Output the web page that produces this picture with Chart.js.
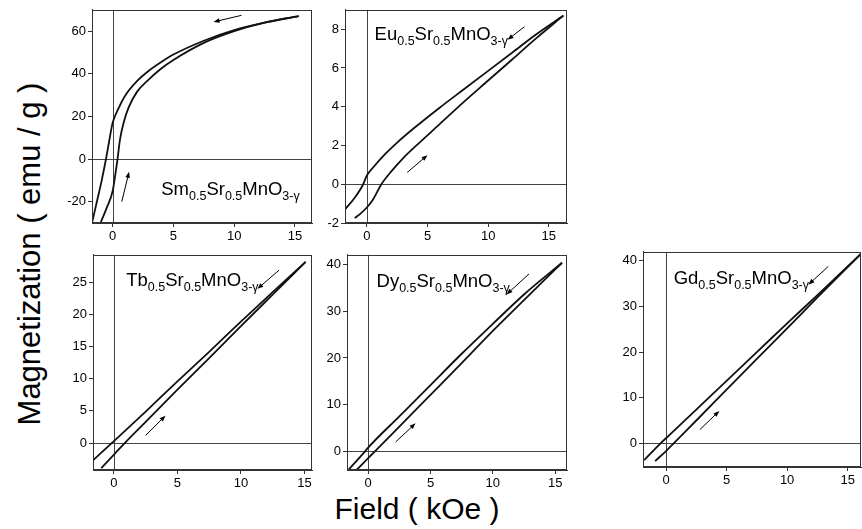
<!DOCTYPE html>
<html><head><meta charset="utf-8">
<script src="https://cdn.jsdelivr.net/npm/chart.js@4.4.1/dist/chart.umd.min.js"></script>
<style>
html,body{margin:0;padding:0;background:#fff;overflow:hidden;width:862px;height:529px;position:relative;}
canvas{position:absolute;}
.ttl{position:absolute;font-family:"Liberation Sans",Arial,sans-serif;color:#000;white-space:nowrap;transform-origin:center center;}
</style></head><body>
<div class="ttl" id="ytitle">Magnetization ( emu / g )</div>
<div class="ttl" id="xtitle">Field ( kOe )</div>
<canvas id="cSm"></canvas>
<canvas id="cEu"></canvas>
<canvas id="cTb"></canvas>
<canvas id="cDy"></canvas>
<canvas id="cGd"></canvas>
<script>
// ---------- DATA ----------
// Sm0.5Sr0.5MnO3-y : decreasing-field branch (upper) and increasing-field branch (lower)
const smDownX = [-1.7, -1.3, -0.9, -0.55, -0.3, 0, 0.5, 1, 2, 3, 4, 5, 7.5, 10, 12.5, 15.3];
const smDownY = [-30, -20, -10, 0, 8, 17, 24, 29.5, 36.5, 41.5, 45.5, 49, 55.5, 60.5, 64, 67];
const smUpX   = [-1.0, -0.5, 0, 0.2, 0.4, 0.6, 0.9, 1.3, 2, 3, 4, 5, 7.5, 10, 12.5, 15.3];
const smUpY   = [-30, -23, -15, -8, 0, 9, 17, 24, 31.5, 37.5, 42.5, 46.5, 54.5, 60, 64, 67];
// Eu0.5Sr0.5MnO3-y
const euDownX = [-1.8, -1.0, -0.3, 0, 0.5, 1.5, 2.5, 4, 6, 8, 10, 12, 14, 16.2];
const euDownY = [-1.3, -0.7, 0, 0.45, 0.85, 1.55, 2.15, 2.95, 3.95, 4.9, 5.85, 6.8, 7.75, 8.7];
const euUpX   = [-1.0, -0.5, 0, 0.5, 1.2, 2, 3, 4, 6, 8, 10, 12, 14, 16.2];
const euUpY   = [-1.75, -1.5, -1.2, -0.8, 0, 0.65, 1.35, 1.95, 3.1, 4.25, 5.35, 6.45, 7.55, 8.7];
// Tb0.5Sr0.5MnO3-y
const tbDownX = [-1.65, 0, 2.5, 5, 7.5, 10, 12.5, 15.1];
const tbDownY = [-2.7, 0.3, 4.9, 9.6, 14.2, 18.9, 23.5, 28.2];
const tbUpX   = [-1.0, 0, 0.85, 2.5, 5, 7.5, 10, 12.5, 15.1];
const tbUpY   = [-3.9, -1.8, 0, 3.3, 8.3, 13.2, 18.2, 23.1, 28.2];
// Dy0.5Sr0.5MnO3-y
const dyDownX = [-1.6, -0.25, 0, 2.5, 5, 7.5, 10, 12.5, 15.55];
const dyDownY = [-4, 0, 0.8, 7.5, 14.2, 20.9, 27.3, 33.6, 40.4];
const dyUpX   = [-0.94, 0, 0.54, 2.5, 5, 7.5, 10, 12.5, 15.55];
const dyUpY   = [-4, -1.45, 0, 5.3, 12.1, 18.9, 25.8, 32.4, 40.4];
// Gd0.5Sr0.5MnO3-y
const gdDownX = [-1.8, -0.45, 0, 2.5, 5, 7.5, 10, 12.5, 16.15];
const gdDownY = [-3.7, 0, 1.1, 7.4, 13.7, 20.0, 26.3, 32.5, 41.7];
const gdUpX   = [-0.9, 0, 0.63, 2.5, 5, 7.5, 10, 12.5, 16.15];
const gdUpY   = [-3.9, -1.7, 0, 5.0, 11.75, 18.5, 25.2, 32.0, 41.7];

// tick labels
const fieldTicks = [0, 5, 10, 15];
const smMagTicks = [-20, 0, 20, 40, 60];
const euMagTicks = [-2, 0, 2, 4, 6, 8];
const tbMagTicks = [0, 5, 10, 15, 20, 25];
const dyMagTicks = [0, 10, 20, 30, 40];
const gdMagTicks = [0, 10, 20, 30, 40];

// compound names (text, subscript?)
const smName = [["Sm",0],["0.5",1],["Sr",0],["0.5",1],["MnO",0],["3-\u03B3",1]];
const euName = [["Eu",0],["0.5",1],["Sr",0],["0.5",1],["MnO",0],["3-\u03B3",1]];
const tbName = [["Tb",0],["0.5",1],["Sr",0],["0.5",1],["MnO",0],["3-\u03B3",1]];
const dyName = [["Dy",0],["0.5",1],["Sr",0],["0.5",1],["MnO",0],["3-\u03B3",1]];
const gdName = [["Gd",0],["0.5",1],["Sr",0],["0.5",1],["MnO",0],["3-\u03B3",1]];

// sweep-direction arrows in data units [x1,y1,x2,y2], head at (x2,y2)
const smArrows = [[10.6, 67.4, 8.3, 64.3], [0.75, -20, 1.35, -6]];
const euArrows = [[13.0, 8.13, 11.6, 7.45], [3.33, 0.61, 5.0, 1.5]];
const tbArrows = [[13.0, 26.9, 11.3, 24.0], [2.5, 1.2, 4.06, 4.26]];
const dyArrows = [[12.9, 38.0, 11.1, 33.6], [2.2, 2.0, 3.8, 6.0]];
const gdArrows = [[13.4, 38.8, 11.76, 34.8], [2.8, 3.0, 4.4, 7.1]];

// ---------- LAYOUT ----------
const FONT = '"Liberation Sans", Arial, Helvetica, sans-serif';
const AXW = 36, AXH = 30, PADT = 8;

function pts(xs, ys){ return xs.map((x,i)=>({x:x, y:ys[i]})); }

function makePanel(id, area, xr, yr, yTicks, downX, downY, upX, upY, name, namePos, arrows){
  const padR = Math.min(8, 862 - area.r);
  const cv = document.getElementById(id);
  const w = (area.r - area.l) + AXW + padR;
  const h = (area.b - area.t) + PADT + AXH;
  cv.width = w; cv.height = h;
  cv.style.left = (area.l - AXW) + 'px';
  cv.style.top = (area.t - PADT) + 'px';
  cv.style.width = w + 'px'; cv.style.height = h + 'px';

  const deco = {
    id: 'deco_' + id,
    beforeDatasetsDraw(chart){
      const {ctx, chartArea:a, scales:{x, y}} = chart;
      ctx.save();
      ctx.strokeStyle = '#444'; ctx.lineWidth = 1;
      const x0 = Math.round(x.getPixelForValue(0)) + 0.5;
      const y0 = Math.round(y.getPixelForValue(0)) + 0.5;
      ctx.beginPath();
      ctx.moveTo(x0, a.top); ctx.lineTo(x0, a.bottom);
      ctx.moveTo(a.left, y0); ctx.lineTo(a.right, y0);
      ctx.stroke();
      ctx.restore();
    },
    afterDatasetsDraw(chart){
      const {ctx, chartArea:a, scales:{x, y}} = chart;
      ctx.save();
      // frame
      ctx.strokeStyle = '#333'; ctx.lineWidth = 1;
      ctx.strokeRect(Math.round(a.left)+0.5, Math.round(a.top)+0.5, Math.round(a.right-a.left)-1, Math.round(a.bottom-a.top)-1);
      // compound name
      let px = x.getPixelForValue(namePos[0]);
      const py = y.getPixelForValue(namePos[1]);
      ctx.fillStyle = '#000'; ctx.textBaseline = 'alphabetic'; ctx.textAlign = 'left';
      name.forEach(([t, sub]) => {
        ctx.font = (sub ? '12.5px ' : '18.5px ') + FONT;
        ctx.fillText(t, px, py + (sub ? 5 : 0));
        px += ctx.measureText(t).width;
      });
      // arrows
      ctx.strokeStyle = '#000'; ctx.fillStyle = '#000'; ctx.lineWidth = 1;
      arrows.forEach(([ax1, ay1, ax2, ay2]) => {
        const X1 = x.getPixelForValue(ax1), Y1 = y.getPixelForValue(ay1);
        const X2 = x.getPixelForValue(ax2), Y2 = y.getPixelForValue(ay2);
        const ang = Math.atan2(Y2 - Y1, X2 - X1);
        const L = 6, W = 2.3;
        ctx.beginPath(); ctx.moveTo(X1, Y1);
        ctx.lineTo(X2 - L*0.6*Math.cos(ang), Y2 - L*0.6*Math.sin(ang)); ctx.stroke();
        ctx.beginPath();
        ctx.moveTo(X2, Y2);
        ctx.lineTo(X2 - L*Math.cos(ang) + W*Math.sin(ang), Y2 - L*Math.sin(ang) - W*Math.cos(ang));
        ctx.lineTo(X2 - L*Math.cos(ang) - W*Math.sin(ang), Y2 - L*Math.sin(ang) + W*Math.cos(ang));
        ctx.closePath(); ctx.fill();
      });
      ctx.restore();
    }
  };

  const lineDs = (data) => ({
    data: data, showLine: true, borderColor: '#111', borderWidth: 1.8,
    pointRadius: 0, fill: false, cubicInterpolationMode: 'monotone'
  });

  const tickFont = {family: FONT, size: 13};
  return new Chart(cv, {
    type: 'scatter',
    data: { datasets: [ lineDs(pts(downX, downY)), lineDs(pts(upX, upY)) ] },
    options: {
      responsive: false, animation: false, devicePixelRatio: 1,
      layout: { padding: { top: PADT, right: padR, left: 0, bottom: 0 } },
      plugins: { legend: {display: false}, tooltip: {enabled: false} },
      scales: {
        x: {
          type: 'linear', min: xr[0], max: xr[1],
          afterBuildTicks: s => { s.ticks = fieldTicks.map(v => ({value: v})); },
          afterFit: s => { s.height = AXH; },
          ticks: { font: tickFont, color: '#000', padding: 2, maxRotation: 0, autoSkip: false, callback: v => String(v) },
          grid: { drawOnChartArea: false, drawTicks: true, tickLength: 4, color: '#333' },
          border: { display: true, color: '#333' }
        },
        y: {
          type: 'linear', min: yr[0], max: yr[1],
          afterBuildTicks: s => { s.ticks = yTicks.map(v => ({value: v})); },
          afterFit: s => { s.width = AXW; },
          ticks: { font: tickFont, color: '#000', padding: 2, autoSkip: false, callback: v => String(v) },
          grid: { drawOnChartArea: false, drawTicks: true, tickLength: 4, color: '#333' },
          border: { display: true, color: '#333' }
        }
      }
    },
    plugins: [deco]
  });
}

makePanel('cSm', {l:92, r:312, t:8, b:223}, [-1.7, 16.4], [-30, 70], smMagTicks,
  smDownX, smDownY, smUpX, smUpY, smName, [4.0, -17], smArrows);
makePanel('cEu', {l:345, r:567, t:8, b:223}, [-1.8, 16.5], [-2, 9], euMagTicks,
  euDownX, euDownY, euUpX, euUpY, euName, [0.64, 7.45], euArrows);
makePanel('cTb', {l:93, r:312, t:253, b:470}, [-1.65, 15.6], [-4.2, 29.3], tbMagTicks,
  tbDownX, tbDownY, tbUpX, tbUpY, tbName, [0.97, 24.4], tbArrows);
makePanel('cDy', {l:347, r:567, t:253, b:470}, [-1.7, 15.95], [-4, 42.1], dyMagTicks,
  dyDownX, dyDownY, dyUpX, dyUpY, dyName, [0.67, 35.2], dyArrows);
makePanel('cGd', {l:643, r:861, t:250, b:467}, [-1.9, 16.1], [-5.2, 42], gdMagTicks,
  gdDownX, gdDownY, gdUpX, gdUpY, gdName, [0.63, 34.9], gdArrows);

// axis titles
const yt = document.getElementById('ytitle');
yt.style.fontSize = '31px';
yt.style.left = '30px'; yt.style.top = '254px';
yt.style.transform = 'translate(-50%,-50%) rotate(-90deg)';
const xt = document.getElementById('xtitle');
xt.style.fontSize = '30px';
xt.style.left = '417px'; xt.style.top = '509px';
xt.style.transform = 'translate(-50%,-50%)';
</script>
</body></html>
